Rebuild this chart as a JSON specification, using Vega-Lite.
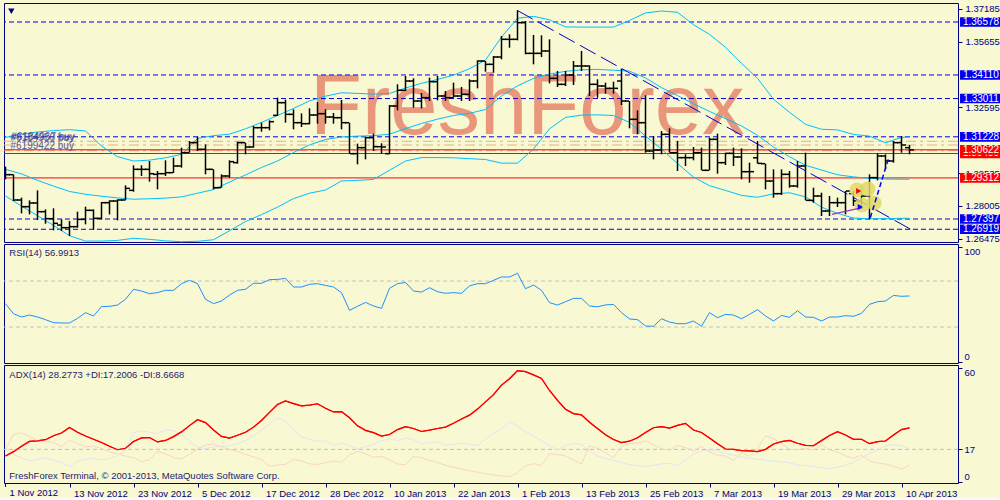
{
"$schema":"https://vega.github.io/schema/vega-lite/v6.json",
"background":"#F8F8D2",
"padding":{"left":2,"top":2,"right":0,"bottom":0},
"bounds":"flush",
"spacing":2,
"config":{"view":{"stroke":"#000080","strokeWidth":1,"fill":"#F8F8D2"},"axis":{"grid":false}},
"datasets":{
"bars":[
{"i":0,"o":1.29402,"h":1.29837,"l":1.29246,"c":1.29464,"r":50.3,"a":13.5,"pd":17.9,"md":17.0},
{"i":1,"o":1.29464,"h":1.29479,"l":1.28236,"c":1.28283,"r":41.6,"a":15.8,"pd":14.4,"md":24.8},
{"i":2,"o":1.28283,"h":1.28391,"l":1.27661,"c":1.27972,"r":38.7,"a":18.6,"pd":12.5,"md":25.7},
{"i":3,"o":1.27972,"h":1.28267,"l":1.27614,"c":1.28143,"r":40.4,"a":21.2,"pd":10.9,"md":23.9},
{"i":4,"o":1.28143,"h":1.28733,"l":1.2735,"c":1.27739,"r":38.7,"a":21.5,"pd":11.8,"md":21.4},
{"i":5,"o":1.27739,"h":1.27848,"l":1.27179,"c":1.27413,"r":36.4,"a":22.1,"pd":12.6,"md":21.4},
{"i":6,"o":1.27413,"h":1.27894,"l":1.26869,"c":1.27195,"r":33.8,"a":24.2,"pd":11.3,"md":20.5},
{"i":7,"o":1.27117,"h":1.27381,"l":1.26838,"c":1.26993,"r":33.5,"a":25.6,"pd":10.0,"md":18.5},
{"i":8,"o":1.26993,"h":1.27304,"l":1.26605,"c":1.2704,"r":33.5,"a":28.5,"pd":7.8,"md":22.0},
{"i":9,"o":1.2704,"h":1.27739,"l":1.26993,"c":1.27381,"r":37.5,"a":26.0,"pd":10.9,"md":20.0},
{"i":10,"o":1.27381,"h":1.27972,"l":1.27148,"c":1.27801,"r":42.5,"a":24.0,"pd":11.8,"md":18.3},
{"i":11,"o":1.27801,"h":1.27848,"l":1.269,"c":1.27428,"r":39.6,"a":22.3,"pd":12.2,"md":18.6},
{"i":12,"o":1.27428,"h":1.28189,"l":1.27381,"c":1.28158,"r":47.7,"a":20.6,"pd":11.4,"md":17.4},
{"i":13,"o":1.28158,"h":1.28267,"l":1.27614,"c":1.28236,"r":48.0,"a":18.6,"pd":12.1,"md":15.7},
{"i":14,"o":1.28236,"h":1.28314,"l":1.27335,"c":1.28283,"r":49.1,"a":16.8,"pd":13.7,"md":14.6},
{"i":15,"o":1.28283,"h":1.28966,"l":1.28267,"c":1.28826,"r":54.1,"a":17.6,"pd":16.2,"md":13.5},
{"i":16,"o":1.28733,"h":1.29899,"l":1.28671,"c":1.29712,"r":62.8,"a":21.1,"pd":25.8,"md":12.6},
{"i":17,"o":1.29712,"h":1.29899,"l":1.29402,"c":1.29712,"r":61.3,"a":23.0,"pd":26.7,"md":10.6},
{"i":18,"o":1.29712,"h":1.30101,"l":1.29138,"c":1.2951,"r":59.0,"a":23.2,"pd":26.0,"md":11.6},
{"i":19,"o":1.29479,"h":1.29634,"l":1.2878,"c":1.2951,"r":59.9,"a":20.9,"pd":25.3,"md":16.0},
{"i":20,"o":1.2951,"h":1.30132,"l":1.29402,"c":1.29557,"r":61.9,"a":21.7,"pd":27.3,"md":14.6},
{"i":21,"o":1.29557,"h":1.30256,"l":1.2954,"c":1.29867,"r":61.9,"a":23.7,"pd":26.8,"md":12.7},
{"i":22,"o":1.29867,"h":1.30722,"l":1.2979,"c":1.30489,"r":67.7,"a":26.2,"pd":24.6,"md":12.0},
{"i":23,"o":1.30489,"h":1.31032,"l":1.30489,"c":1.30955,"r":70.6,"a":29.5,"pd":21.5,"md":14.4},
{"i":24,"o":1.30955,"h":1.31234,"l":1.30567,"c":1.30644,"r":67.7,"a":32.6,"pd":18.2,"md":17.2},
{"i":25,"o":1.30644,"h":1.30877,"l":1.29479,"c":1.29712,"r":54.1,"a":31.1,"pd":17.4,"md":19.3},
{"i":26,"o":1.29712,"h":1.29712,"l":1.2878,"c":1.28857,"r":50.3,"a":27.2,"pd":18.3,"md":19.8},
{"i":27,"o":1.28857,"h":1.29479,"l":1.28857,"c":1.29402,"r":52.6,"a":23.8,"pd":18.6,"md":18.4},
{"i":28,"o":1.29402,"h":1.30132,"l":1.29324,"c":1.3007,"r":57.8,"a":22.9,"pd":18.9,"md":16.9},
{"i":29,"o":1.30023,"h":1.31001,"l":1.29976,"c":1.30955,"r":61.9,"a":24.4,"pd":19.9,"md":15.9},
{"i":30,"o":1.30955,"h":1.30955,"l":1.30411,"c":1.30753,"r":62.8,"a":26.0,"pd":21.7,"md":14.3},
{"i":31,"o":1.30753,"h":1.31731,"l":1.30722,"c":1.31653,"r":68.0,"a":28.7,"pd":24.2,"md":13.1},
{"i":32,"o":1.31653,"h":1.31886,"l":1.31467,"c":1.31653,"r":68.0,"a":32.2,"pd":27.1,"md":11.6},
{"i":33,"o":1.31653,"h":1.31995,"l":1.31529,"c":1.31933,"r":71.2,"a":36.5,"pd":30.5,"md":8.1},
{"i":34,"o":1.32228,"h":1.33051,"l":1.32197,"c":1.32818,"r":71.4,"a":40.6,"pd":33.5,"md":8.8},
{"i":35,"o":1.32818,"h":1.32958,"l":1.31886,"c":1.32275,"r":72.3,"a":42.5,"pd":31.9,"md":9.1},
{"i":36,"o":1.32275,"h":1.32508,"l":1.31576,"c":1.31886,"r":64.8,"a":41.1,"pd":27.6,"md":11.8},
{"i":37,"o":1.31886,"h":1.32321,"l":1.31685,"c":1.3184,"r":64.8,"a":39.9,"pd":23.4,"md":10.9},
{"i":38,"o":1.3184,"h":1.32554,"l":1.31809,"c":1.32244,"r":67.1,"a":40.3,"pd":22.3,"md":9.4},
{"i":39,"o":1.32244,"h":1.32849,"l":1.3184,"c":1.32306,"r":67.7,"a":41.0,"pd":21.4,"md":9.0},
{"i":40,"o":1.32306,"h":1.32508,"l":1.3184,"c":1.3215,"r":66.2,"a":38.6,"pd":21.4,"md":10.0},
{"i":41,"o":1.3215,"h":1.32336,"l":1.3184,"c":1.32119,"r":64.8,"a":36.7,"pd":19.2,"md":10.9},
{"i":42,"o":1.32119,"h":1.32943,"l":1.31576,"c":1.31886,"r":59.9,"a":36.9,"pd":20.3,"md":10.1},
{"i":43,"o":1.31886,"h":1.31886,"l":1.30442,"c":1.30442,"r":44.5,"a":33.6,"pd":18.9,"md":14.2},
{"i":44,"o":1.30442,"h":1.30908,"l":1.29945,"c":1.30722,"r":48.0,"a":29.4,"pd":17.2,"md":16.0},
{"i":45,"o":1.30722,"h":1.31219,"l":1.30178,"c":1.31188,"r":51.4,"a":27.0,"pd":18.3,"md":14.7},
{"i":46,"o":1.31188,"h":1.31374,"l":1.30567,"c":1.30768,"r":48.3,"a":25.8,"pd":19.7,"md":12.9},
{"i":47,"o":1.30768,"h":1.30924,"l":1.30442,"c":1.30753,"r":46.2,"a":24.0,"pd":21.6,"md":13.3},
{"i":48,"o":1.30442,"h":1.3271,"l":1.30411,"c":1.32663,"r":63.6,"a":24.8,"pd":22.6,"md":11.4},
{"i":49,"o":1.32663,"h":1.33673,"l":1.32461,"c":1.33393,"r":67.7,"a":27.4,"pd":21.6,"md":9.3},
{"i":50,"o":1.33393,"h":1.34061,"l":1.33362,"c":1.33828,"r":68.8,"a":29.0,"pd":22.9,"md":8.9},
{"i":51,"o":1.33828,"h":1.33952,"l":1.32585,"c":1.32896,"r":61.3,"a":28.0,"pd":22.2,"md":13.3},
{"i":52,"o":1.32896,"h":1.33269,"l":1.32554,"c":1.33051,"r":60.4,"a":26.4,"pd":20.0,"md":12.7},
{"i":53,"o":1.33051,"h":1.33983,"l":1.32896,"c":1.33797,"r":64.2,"a":27.1,"pd":20.6,"md":11.2},
{"i":54,"o":1.33797,"h":1.34061,"l":1.32927,"c":1.33129,"r":60.7,"a":28.0,"pd":21.0,"md":10.1},
{"i":55,"o":1.33129,"h":1.33362,"l":1.32896,"c":1.33051,"r":59.3,"a":28.7,"pd":19.1,"md":8.6},
{"i":56,"o":1.33051,"h":1.3375,"l":1.33051,"c":1.33129,"r":59.9,"a":30.7,"pd":19.6,"md":7.6},
{"i":57,"o":1.33129,"h":1.33548,"l":1.32896,"c":1.33207,"r":59.3,"a":33.0,"pd":20.3,"md":6.7},
{"i":58,"o":1.33207,"h":1.33906,"l":1.32896,"c":1.33828,"r":65.7,"a":35.0,"pd":19.6,"md":5.8},
{"i":59,"o":1.33828,"h":1.34791,"l":1.33486,"c":1.3476,"r":67.7,"a":38.2,"pd":19.1,"md":5.0},
{"i":60,"o":1.3476,"h":1.3476,"l":1.34263,"c":1.34605,"r":67.7,"a":42.0,"pd":22.5,"md":4.2},
{"i":61,"o":1.34605,"h":1.34993,"l":1.34216,"c":1.34946,"r":70.6,"a":45.8,"pd":25.4,"md":3.6},
{"i":62,"o":1.34946,"h":1.35925,"l":1.34838,"c":1.3577,"r":73.5,"a":50.8,"pd":27.7,"md":3.0},
{"i":63,"o":1.3577,"h":1.36003,"l":1.35381,"c":1.3577,"r":73.5,"a":54.2,"pd":31.5,"md":2.7},
{"i":64,"o":1.3577,"h":1.37121,"l":1.35723,"c":1.36546,"r":76.7,"a":58.4,"pd":29.2,"md":4.5},
{"i":65,"o":1.36546,"h":1.36624,"l":1.35071,"c":1.35117,"r":63.3,"a":57.9,"pd":26.5,"md":8.3},
{"i":66,"o":1.35117,"h":1.35972,"l":1.34605,"c":1.35117,"r":66.5,"a":56.2,"pd":23.9,"md":9.5},
{"i":67,"o":1.35117,"h":1.35956,"l":1.34946,"c":1.35226,"r":61.9,"a":54.3,"pd":21.6,"md":8.4},
{"i":68,"o":1.35226,"h":1.3577,"l":1.33719,"c":1.33952,"r":51.2,"a":48.0,"pd":18.8,"md":14.8},
{"i":69,"o":1.33952,"h":1.34294,"l":1.33548,"c":1.33673,"r":49.1,"a":42.8,"pd":16.6,"md":14.3},
{"i":70,"o":1.33673,"h":1.34294,"l":1.33595,"c":1.34108,"r":52.0,"a":38.1,"pd":19.0,"md":13.5},
{"i":71,"o":1.34108,"h":1.3476,"l":1.33642,"c":1.34527,"r":54.9,"a":35.8,"pd":20.0,"md":11.3},
{"i":72,"o":1.34527,"h":1.35226,"l":1.34294,"c":1.34527,"r":54.9,"a":35.2,"pd":19.7,"md":9.3},
{"i":73,"o":1.34527,"h":1.34558,"l":1.33129,"c":1.33673,"r":48.3,"a":31.3,"pd":16.2,"md":18.8},
{"i":74,"o":1.33673,"h":1.33906,"l":1.33051,"c":1.33595,"r":47.6,"a":28.0,"pd":13.5,"md":17.6},
{"i":75,"o":1.33595,"h":1.3375,"l":1.33238,"c":1.33486,"r":49.2,"a":24.7,"pd":12.1,"md":15.2},
{"i":76,"o":1.33486,"h":1.33797,"l":1.33238,"c":1.33486,"r":49.7,"a":22.2,"pd":11.1,"md":12.6},
{"i":77,"o":1.33828,"h":1.34403,"l":1.3271,"c":1.32896,"r":42.5,"a":20.6,"pd":10.0,"md":18.6},
{"i":78,"o":1.32896,"h":1.32896,"l":1.31622,"c":1.32042,"r":37.0,"a":21.3,"pd":9.0,"md":20.0},
{"i":79,"o":1.32042,"h":1.32461,"l":1.31343,"c":1.31886,"r":36.4,"a":23.1,"pd":8.4,"md":20.4},
{"i":80,"o":1.31886,"h":1.3316,"l":1.30489,"c":1.30567,"r":30.9,"a":25.9,"pd":8.1,"md":21.4},
{"i":81,"o":1.30567,"h":1.31265,"l":1.30178,"c":1.30613,"r":30.6,"a":28.4,"pd":8.7,"md":19.6},
{"i":82,"o":1.30613,"h":1.31498,"l":1.30411,"c":1.31343,"r":37.2,"a":29.0,"pd":9.4,"md":17.2},
{"i":83,"o":1.31343,"h":1.31622,"l":1.30489,"c":1.30489,"r":34.3,"a":28.2,"pd":9.6,"md":16.6},
{"i":84,"o":1.30489,"h":1.31032,"l":1.29634,"c":1.30256,"r":32.9,"a":29.6,"pd":8.3,"md":19.0},
{"i":85,"o":1.30256,"h":1.30411,"l":1.29867,"c":1.30256,"r":32.9,"a":30.7,"pd":11.5,"md":17.9},
{"i":86,"o":1.30256,"h":1.30753,"l":1.30132,"c":1.30489,"r":35.2,"a":27.2,"pd":14.5,"md":16.2},
{"i":87,"o":1.30489,"h":1.30722,"l":1.29666,"c":1.29666,"r":30.6,"a":25.9,"pd":16.2,"md":18.6},
{"i":88,"o":1.29666,"h":1.31188,"l":1.29666,"c":1.3111,"r":42.5,"a":23.0,"pd":16.7,"md":15.6},
{"i":89,"o":1.3111,"h":1.31374,"l":1.2951,"c":1.30023,"r":38.1,"a":19.9,"pd":16.3,"md":14.0},
{"i":90,"o":1.30023,"h":1.30489,"l":1.29914,"c":1.30457,"r":41.0,"a":17.2,"pd":14.8,"md":13.5},
{"i":91,"o":1.30457,"h":1.30722,"l":1.29867,"c":1.30287,"r":40.4,"a":17.0,"pd":14.0,"md":11.1},
{"i":92,"o":1.30287,"h":1.30691,"l":1.29246,"c":1.29603,"r":37.2,"a":16.3,"pd":13.0,"md":15.1},
{"i":93,"o":1.29603,"h":1.30023,"l":1.29091,"c":1.29603,"r":41.0,"a":16.2,"pd":12.3,"md":13.3},
{"i":94,"o":1.3025,"h":1.31032,"l":1.29976,"c":1.2999,"r":45.1,"a":15.8,"pd":11.8,"md":17.3},
{"i":95,"o":1.29976,"h":1.29976,"l":1.2878,"c":1.29168,"r":39.6,"a":17.0,"pd":11.2,"md":24.1},
{"i":96,"o":1.29168,"h":1.29712,"l":1.28392,"c":1.28578,"r":35.2,"a":19.8,"pd":10.9,"md":22.6},
{"i":97,"o":1.28578,"h":1.29712,"l":1.28516,"c":1.29479,"r":40.1,"a":21.1,"pd":10.4,"md":20.1},
{"i":98,"o":1.29479,"h":1.29634,"l":1.28857,"c":1.28935,"r":38.4,"a":21.7,"pd":9.9,"md":17.0},
{"i":99,"o":1.28935,"h":1.30101,"l":1.28857,"c":1.29867,"r":44.2,"a":20.2,"pd":8.8,"md":16.8},
{"i":100,"o":1.29867,"h":1.30489,"l":1.28267,"c":1.28267,"r":38.7,"a":19.1,"pd":8.5,"md":17.6},
{"i":101,"o":1.28267,"h":1.28857,"l":1.28158,"c":1.28469,"r":38.4,"a":18.9,"pd":8.0,"md":16.6},
{"i":102,"o":1.28469,"h":1.28624,"l":1.27537,"c":1.2777,"r":35.2,"a":21.6,"pd":7.4,"md":19.3},
{"i":103,"o":1.2777,"h":1.28469,"l":1.27537,"c":1.28158,"r":38.7,"a":24.3,"pd":6.8,"md":16.8},
{"i":104,"o":1.28158,"h":1.28391,"l":1.27956,"c":1.28158,"r":38.7,"a":26.3,"pd":7.6,"md":15.6},
{"i":105,"o":1.28158,"h":1.28702,"l":1.27614,"c":1.28702,"r":39.9,"a":24.6,"pd":8.6,"md":13.6},
{"i":106,"o":1.28578,"h":1.28702,"l":1.28003,"c":1.28236,"r":39.3,"a":22.3,"pd":10.1,"md":12.3},
{"i":107,"o":1.28236,"h":1.28935,"l":1.27848,"c":1.28469,"r":41.9,"a":22.3,"pd":12.4,"md":13.9},
{"i":108,"o":1.28469,"h":1.29479,"l":1.27381,"c":1.29324,"r":49.7,"a":20.0,"pd":14.9,"md":10.9},
{"i":109,"o":1.29324,"h":1.30457,"l":1.292,"c":1.30333,"r":52.0,"a":21.1,"pd":16.4,"md":9.8},
{"i":110,"o":1.30333,"h":1.30411,"l":1.29712,"c":1.30101,"r":52.6,"a":21.4,"pd":18.8,"md":9.3},
{"i":111,"o":1.30101,"h":1.31032,"l":1.30023,"c":1.30955,"r":57.5,"a":24.6,"pd":19.5,"md":8.1},
{"i":112,"o":1.30955,"h":1.31265,"l":1.30489,"c":1.30846,"r":56.7,"a":27.4,"pd":18.9,"md":6.6},
{"i":113,"o":1.30722,"h":1.30846,"l":1.30411,"c":1.30622,"r":56.99,"a":28.28,"pd":17.2,"md":8.67}
],
"bands":[
{"i":0,"up":1.312,"mid":1.2971,"lo":1.2847},{"i":2,"up":1.3135,"mid":1.295,"lo":1.28},{"i":4,"up":1.3145,"mid":1.292,"lo":1.2755},{"i":6,"up":1.3152,"mid":1.2893,"lo":1.271},{"i":8,"up":1.3156,"mid":1.2868,"lo":1.2662},{"i":10,"up":1.315,"mid":1.2855,"lo":1.2637},{"i":12,"up":1.308,"mid":1.2846,"lo":1.2637},{"i":14,"up":1.303,"mid":1.2838,"lo":1.264},{"i":16,"up":1.301,"mid":1.2832,"lo":1.265},{"i":18,"up":1.3014,"mid":1.2834,"lo":1.2645},{"i":20,"up":1.3025,"mid":1.2837,"lo":1.2638},{"i":22,"up":1.3041,"mid":1.2843,"lo":1.2634},{"i":24,"up":1.3115,"mid":1.286,"lo":1.2636},{"i":26,"up":1.3128,"mid":1.2877,"lo":1.2643},{"i":28,"up":1.3135,"mid":1.2912,"lo":1.2685},{"i":30,"up":1.316,"mid":1.2945,"lo":1.2728},{"i":32,"up":1.319,"mid":1.298,"lo":1.276},{"i":34,"up":1.3222,"mid":1.301,"lo":1.2795},{"i":36,"up":1.3255,"mid":1.305,"lo":1.2835},{"i":38,"up":1.329,"mid":1.3085,"lo":1.286},{"i":40,"up":1.3312,"mid":1.311,"lo":1.2875},{"i":42,"up":1.3328,"mid":1.3122,"lo":1.2917},{"i":44,"up":1.3325,"mid":1.3126,"lo":1.292},{"i":46,"up":1.3322,"mid":1.3128,"lo":1.2924},{"i":48,"up":1.3325,"mid":1.3135,"lo":1.2967},{"i":50,"up":1.335,"mid":1.3161,"lo":1.301},{"i":52,"up":1.3372,"mid":1.3185,"lo":1.3026},{"i":54,"up":1.339,"mid":1.3205,"lo":1.3026},{"i":56,"up":1.341,"mid":1.3222,"lo":1.3025},{"i":58,"up":1.344,"mid":1.3232,"lo":1.3021},{"i":60,"up":1.348,"mid":1.325,"lo":1.3017},{"i":62,"up":1.3588,"mid":1.3313,"lo":1.3},{"i":64,"up":1.3675,"mid":1.336,"lo":1.3},{"i":66,"up":1.3684,"mid":1.3395,"lo":1.3066},{"i":68,"up":1.3668,"mid":1.3415,"lo":1.316},{"i":70,"up":1.3635,"mid":1.3428,"lo":1.3213},{"i":72,"up":1.3634,"mid":1.3435,"lo":1.3224},{"i":74,"up":1.3634,"mid":1.3437,"lo":1.3225},{"i":76,"up":1.3634,"mid":1.3433,"lo":1.3222},{"i":78,"up":1.3665,"mid":1.3429,"lo":1.319},{"i":80,"up":1.37,"mid":1.3397,"lo":1.3126},{"i":82,"up":1.3709,"mid":1.3352,"lo":1.3066},{"i":84,"up":1.3703,"mid":1.3315,"lo":1.2998},{"i":86,"up":1.3645,"mid":1.3277,"lo":1.2935},{"i":88,"up":1.36,"mid":1.3241,"lo":1.2895},{"i":90,"up":1.354,"mid":1.3208,"lo":1.2873},{"i":92,"up":1.3465,"mid":1.3173,"lo":1.285},{"i":94,"up":1.3395,"mid":1.313,"lo":1.2841},{"i":96,"up":1.3298,"mid":1.3075,"lo":1.2857},{"i":98,"up":1.3237,"mid":1.303,"lo":1.2862},{"i":100,"up":1.3181,"mid":1.299,"lo":1.2843},{"i":102,"up":1.3158,"mid":1.2968,"lo":1.2795},{"i":104,"up":1.3155,"mid":1.2946,"lo":1.2766},{"i":106,"up":1.3134,"mid":1.2936,"lo":1.2744},{"i":108,"up":1.3126,"mid":1.2929,"lo":1.2741},{"i":110,"up":1.3095,"mid":1.2926,"lo":1.2741},{"i":112,"up":1.312,"mid":1.2925,"lo":1.2743},{"i":113,"up":1.3122,"mid":1.2925,"lo":1.2743}
],
"levels":[{"p":1.36578,"k":"blue"},{"p":1.3411,"k":"blue"},{"p":1.33011,"k":"blue"},{"p":1.31228,"k":"blue"},{"p":1.27397,"k":"blue"},{"p":1.26919,"k":"blue"},{"p":1.3045,"k":"red"},{"p":1.30622,"k":"red"},{"p":1.29312,"k":"red"}],
"orders":[{"p":1.31019},{"p":1.30846},{"p":1.30581}],
"trend":[{"i":63.94,"p":1.37123},{"i":113.69,"p":1.26806}],
"upline":[{"i":108.1,"p":1.2746},{"i":110.4,"p":1.3025}],
"purple":[{"i":103.3,"p":1.27617},{"i":107.06,"p":1.27925}],
"blobs":[{"i":106.44,"p":1.28749},{"i":107.81,"p":1.28796},{"i":108.56,"p":1.28144},{"i":107.06,"p":1.2805}],
"arrows":[{"i":106.65,"p":1.28702,"k":"sell"},{"i":106.85,"p":1.27957,"k":"buy"}],
"tickets":[{"i":0.625,"p":1.31172,"t":"#6184930 buy"},{"i":0.75,"p":1.31235,"t":"#6184967 buy"},{"i":0.625,"p":1.30799,"t":"#6199422 buy"}]
},
"vconcat":[
{
"width":954,"height":239,
"layer":[
{"data":{"values":[{"t":"FreshForex"}]},"mark":{"type":"text","align":"left","baseline":"alphabetic","font":"Liberation Sans","fontSize":85,"color":"#E9967A"},
 "encoding":{"x":{"datum":38.06,"type":"quantitative","scale":{"domain":[-0.1875,119.0625],"nice":false,"zero":false},"axis":null},
  "y":{"datum":1.31359,"type":"quantitative","scale":{"domain":[1.26326,1.37463],"nice":false,"zero":false}},"text":{"field":"t"}}},
{"data":{"name":"orders"},"mark":{"type":"rule","color":"#E2B47E","strokeWidth":1,"strokeDash":[10,4,3,4]},
 "encoding":{"y":{"field":"p","type":"quantitative","scale":{"domain":[1.26326,1.37463],"nice":false,"zero":false}}}},
{"data":{"name":"levels"},"transform":[{"filter":"datum.k==='blue'"}],"mark":{"type":"rule","color":"#0000DD","strokeWidth":1,"strokeDash":[5,3]},
 "encoding":{"y":{"field":"p","type":"quantitative","scale":{"domain":[1.26326,1.37463],"nice":false,"zero":false},
  "axis":{"orient":"right","values":[1.37185,1.35655,1.32595,1.29535,1.28005,1.26475],"format":".5f","title":null,"domain":false,"grid":false,"tickSize":4,"tickColor":"#000080","labelColor":"#000080","labelFont":"Liberation Sans","labelFontSize":9.5,"labelPadding":3,"labelFlush":false,"labelOverlap":false}}}},
{"data":{"name":"levels"},"transform":[{"filter":"datum.k==='red'"}],"mark":{"type":"rule","color":"#FF0000","strokeWidth":1},
 "encoding":{"y":{"field":"p","type":"quantitative","scale":{"domain":[1.26326,1.37463],"nice":false,"zero":false}}}},
{"data":{"name":"bands"},"transform":[{"fold":["up","mid","lo"],"as":["band","v"]}],"mark":{"type":"line","color":"#00BFFF","strokeWidth":1},
 "encoding":{"x":{"field":"i","type":"quantitative","scale":{"domain":[-0.1875,119.0625],"nice":false,"zero":false},"axis":null},
  "y":{"field":"v","type":"quantitative","scale":{"domain":[1.26326,1.37463],"nice":false,"zero":false}},"detail":{"field":"band"}}},
{"data":{"name":"bars"},"mark":{"type":"rule","color":"#000000","strokeWidth":1.5},
 "encoding":{"x":{"field":"i","type":"quantitative","scale":{"domain":[-0.1875,119.0625],"nice":false,"zero":false},"axis":null},
  "y":{"field":"l","type":"quantitative","scale":{"domain":[1.26326,1.37463],"nice":false,"zero":false}},"y2":{"field":"h"}}},
{"data":{"name":"bars"},"transform":[{"filter":"datum.i>0"}],"mark":{"type":"tick","orient":"horizontal","size":4,"thickness":1.5,"xOffset":-2.5,"color":"#000000","opacity":1},
 "encoding":{"x":{"field":"i","type":"quantitative","scale":{"domain":[-0.1875,119.0625],"nice":false,"zero":false},"axis":null},
  "y":{"field":"o","type":"quantitative","scale":{"domain":[1.26326,1.37463],"nice":false,"zero":false}}}},
{"data":{"name":"bars"},"mark":{"type":"tick","orient":"horizontal","size":4,"thickness":1.5,"xOffset":2.5,"color":"#000000","opacity":1},
 "encoding":{"x":{"field":"i","type":"quantitative","scale":{"domain":[-0.1875,119.0625],"nice":false,"zero":false},"axis":null},
  "y":{"field":"c","type":"quantitative","scale":{"domain":[1.26326,1.37463],"nice":false,"zero":false}}}},
{"data":{"name":"trend"},"mark":{"type":"line","color":"#0000CD","strokeWidth":1,"strokeDash":[18,6]},
 "encoding":{"x":{"field":"i","type":"quantitative","scale":{"domain":[-0.1875,119.0625],"nice":false,"zero":false},"axis":null},
  "y":{"field":"p","type":"quantitative","scale":{"domain":[1.26326,1.37463],"nice":false,"zero":false}}}},
{"data":{"name":"blobs"},"mark":{"type":"point","shape":"circle","filled":true,"size":230,"color":"#E0D868","opacity":0.85},
 "encoding":{"x":{"field":"i","type":"quantitative","scale":{"domain":[-0.1875,119.0625],"nice":false,"zero":false},"axis":null},
  "y":{"field":"p","type":"quantitative","scale":{"domain":[1.26326,1.37463],"nice":false,"zero":false}}}},
{"data":{"name":"upline"},"mark":{"type":"line","color":"#0000FF","strokeWidth":1.5,"strokeDash":[5,3]},
 "encoding":{"x":{"field":"i","type":"quantitative","scale":{"domain":[-0.1875,119.0625],"nice":false,"zero":false},"axis":null},
  "y":{"field":"p","type":"quantitative","scale":{"domain":[1.26326,1.37463],"nice":false,"zero":false}}}},
{"data":{"name":"purple"},"mark":{"type":"line","color":"#9932CC","strokeWidth":1.2},
 "encoding":{"x":{"field":"i","type":"quantitative","scale":{"domain":[-0.1875,119.0625],"nice":false,"zero":false},"axis":null},
  "y":{"field":"p","type":"quantitative","scale":{"domain":[1.26326,1.37463],"nice":false,"zero":false}}}},
{"data":{"name":"arrows"},"transform":[{"filter":"datum.k==='sell'"}],"mark":{"type":"point","shape":"triangle-right","filled":true,"size":35,"color":"#FF0000","opacity":1},
 "encoding":{"x":{"field":"i","type":"quantitative","scale":{"domain":[-0.1875,119.0625],"nice":false,"zero":false},"axis":null},
  "y":{"field":"p","type":"quantitative","scale":{"domain":[1.26326,1.37463],"nice":false,"zero":false}}}},
{"data":{"name":"arrows"},"transform":[{"filter":"datum.k==='buy'"}],"mark":{"type":"point","shape":"triangle-right","filled":true,"size":35,"color":"#0000FF","opacity":1},
 "encoding":{"x":{"field":"i","type":"quantitative","scale":{"domain":[-0.1875,119.0625],"nice":false,"zero":false},"axis":null},
  "y":{"field":"p","type":"quantitative","scale":{"domain":[1.26326,1.37463],"nice":false,"zero":false}}}},
{"data":{"name":"tickets"},"mark":{"type":"text","align":"left","baseline":"middle","font":"Liberation Sans","fontSize":10,"color":"#3B3B9A","opacity":0.85},
 "encoding":{"x":{"field":"i","type":"quantitative","scale":{"domain":[-0.1875,119.0625],"nice":false,"zero":false},"axis":null},
  "y":{"field":"p","type":"quantitative","scale":{"domain":[1.26326,1.37463],"nice":false,"zero":false}},"text":{"field":"t"}}},
{"data":{"values":[{}]},"mark":{"type":"point","shape":"triangle-down","filled":true,"size":40,"color":"#000080","opacity":1},
 "encoding":{"x":{"datum":0.73,"type":"quantitative","scale":{"domain":[-0.1875,119.0625],"nice":false,"zero":false},"axis":null},
  "y":{"datum":1.37076,"type":"quantitative","scale":{"domain":[1.26326,1.37463],"nice":false,"zero":false}}}},
{"data":{"name":"levels"},"transform":[{"filter":"datum.p===1.3045"}],"mark":{"type":"point","shape":"M-1,-0.23H1V0.23H-1Z","filled":true,"size":1764,"color":"#FF0000","opacity":1},
 "encoding":{"x":{"datum":121.94,"type":"quantitative","scale":{"domain":[-0.1875,119.0625],"nice":false,"zero":false},"axis":null},
  "y":{"field":"p","type":"quantitative","scale":{"domain":[1.26326,1.37463],"nice":false,"zero":false}}}},
{"data":{"name":"levels"},"transform":[{"filter":"datum.p===1.3045"}],"mark":{"type":"text","align":"center","baseline":"middle","font":"Liberation Sans","fontSize":10,"color":"#FFFFFF"},
 "encoding":{"x":{"datum":121.94,"type":"quantitative","scale":{"domain":[-0.1875,119.0625],"nice":false,"zero":false},"axis":null},
  "y":{"field":"p","type":"quantitative","scale":{"domain":[1.26326,1.37463],"nice":false,"zero":false}},"text":{"field":"p","format":".5f"}}},
{"data":{"name":"levels"},"transform":[{"filter":"datum.k==='blue'"}],"mark":{"type":"point","shape":"M-1,-0.23H1V0.23H-1Z","filled":true,"size":1764,"color":"#0000EE","opacity":1},
 "encoding":{"x":{"datum":121.94,"type":"quantitative","scale":{"domain":[-0.1875,119.0625],"nice":false,"zero":false},"axis":null},
  "y":{"field":"p","type":"quantitative","scale":{"domain":[1.26326,1.37463],"nice":false,"zero":false}}}},
{"data":{"name":"levels"},"transform":[{"filter":"datum.k==='red' && datum.p!==1.3045"}],"mark":{"type":"point","shape":"M-1,-0.23H1V0.23H-1Z","filled":true,"size":1764,"color":"#FF0000","opacity":1},
 "encoding":{"x":{"datum":121.94,"type":"quantitative","scale":{"domain":[-0.1875,119.0625],"nice":false,"zero":false},"axis":null},
  "y":{"field":"p","type":"quantitative","scale":{"domain":[1.26326,1.37463],"nice":false,"zero":false}}}},
{"data":{"name":"levels"},"transform":[{"filter":"datum.p!==1.3045"}],"mark":{"type":"text","align":"center","baseline":"middle","font":"Liberation Sans","fontSize":10,"color":"#FFFFFF"},
 "encoding":{"x":{"datum":121.94,"type":"quantitative","scale":{"domain":[-0.1875,119.0625],"nice":false,"zero":false},"axis":null},
  "y":{"field":"p","type":"quantitative","scale":{"domain":[1.26326,1.37463],"nice":false,"zero":false}},"text":{"field":"p","format":".5f"}}}
]
},
{
"width":954,"height":119,
"layer":[
{"data":{"values":[{"v":70},{"v":30}]},"mark":{"type":"rule","color":"#C0C0C0","strokeWidth":1,"strokeDash":[4,3]},
 "encoding":{"y":{"field":"v","type":"quantitative","scale":{"domain":[-1.3,102.2],"nice":false,"zero":false},
  "axis":{"orient":"right","values":[0,30,70,100],"title":null,"domain":false,"grid":false,"tickSize":4,"tickColor":"#000080","labelColor":"#000080","labelFont":"Liberation Sans","labelFontSize":9.5,"labelPadding":2,"labelFlush":5,"labelOverlap":false}}}},
{"data":{"name":"bars"},"mark":{"type":"line","color":"#1E90FF","strokeWidth":1},
 "encoding":{"x":{"field":"i","type":"quantitative","scale":{"domain":[-0.1875,119.0625],"nice":false,"zero":false},"axis":null},
  "y":{"field":"r","type":"quantitative","scale":{"domain":[-1.3,102.2],"nice":false,"zero":false}}}},
{"data":{"values":[{"t":"RSI(14) 56.9913"}]},"mark":{"type":"text","align":"left","baseline":"middle","font":"Liberation Sans","fontSize":9.5,"color":"#1C1C70"},
 "encoding":{"x":{"datum":0.475,"type":"quantitative","scale":{"domain":[-0.1875,119.0625],"nice":false,"zero":false},"axis":null},
  "y":{"datum":94.1,"type":"quantitative","scale":{"domain":[-1.3,102.2],"nice":false,"zero":false}},"text":{"field":"t"}}}
]
},
{
"width":954,"height":118,
"layer":[
{"data":{"name":"bars"},"mark":{"type":"line","color":"#FF0000","strokeWidth":1.2},
 "encoding":{"x":{"field":"i","type":"quantitative","scale":{"domain":[-0.1875,119.0625],"nice":false,"zero":false},
  "axis":{"values":[8,16,24,32,40,48,56,64,72,80,88,96,104,112],"labelExpr":"['1 Nov 2012','13 Nov 2012','23 Nov 2012','5 Dec 2012','17 Dec 2012','28 Dec 2012','10 Jan 2013','22 Jan 2013','1 Feb 2013','13 Feb 2013','25 Feb 2013','7 Mar 2013','19 Mar 2013','29 Mar 2013','10 Apr 2013'][round(datum.value/8)]","title":null,"domain":false,"grid":false,"tickSize":4,"tickColor":"#000080","labelColor":"#000080","labelFont":"Liberation Sans","labelFontSize":9.5,"labelAlign":"left","labelBaseline":"top","labelPadding":1,"labelOffset":4,"labelFlush":false,"labelOverlap":false,"labelBound":false}},
  "y":{"field":"a","type":"quantitative","scale":{"domain":[-0.7,61.4],"nice":false,"zero":false},
  "axis":{"orient":"right","values":[0,17,60],"title":null,"domain":false,"grid":false,"tickSize":4,"tickColor":"#000080","labelColor":"#000080","labelFont":"Liberation Sans","labelFontSize":9.5,"labelPadding":2,"labelFlush":5,"labelOverlap":false}}}},
{"data":{"values":[{"v":17}]},"mark":{"type":"rule","color":"#C0C0C0","strokeWidth":1,"strokeDash":[4,3]},
 "encoding":{"y":{"field":"v","type":"quantitative","scale":{"domain":[-0.7,61.4],"nice":false,"zero":false}}}},
{"data":{"name":"bars"},"mark":{"type":"line","color":"#E4E4F2","strokeWidth":1},
 "encoding":{"x":{"field":"i","type":"quantitative","scale":{"domain":[-0.1875,119.0625],"nice":false,"zero":false}},
  "y":{"field":"pd","type":"quantitative","scale":{"domain":[-0.7,61.4],"nice":false,"zero":false}}}},
{"data":{"name":"bars"},"mark":{"type":"line","color":"#FAD6C2","strokeWidth":1},
 "encoding":{"x":{"field":"i","type":"quantitative","scale":{"domain":[-0.1875,119.0625],"nice":false,"zero":false}},
  "y":{"field":"md","type":"quantitative","scale":{"domain":[-0.7,61.4],"nice":false,"zero":false}}}},
{"data":{"name":"bars"},"mark":{"type":"line","color":"#FF0000","strokeWidth":1.2},
 "encoding":{"x":{"field":"i","type":"quantitative","scale":{"domain":[-0.1875,119.0625],"nice":false,"zero":false}},
  "y":{"field":"a","type":"quantitative","scale":{"domain":[-0.7,61.4],"nice":false,"zero":false}}}},
{"data":{"values":[{"i":0}]},"mark":{"type":"rule","color":"#000080","strokeWidth":1},
 "encoding":{"x":{"field":"i","type":"quantitative","scale":{"domain":[-0.1875,119.0625],"nice":false,"zero":false}},
  "y":{"datum":-0.7,"type":"quantitative","scale":{"domain":[-0.7,61.4],"nice":false,"zero":false}},"y2":{"datum":-2.8}}},
{"data":{"values":[{"i":0,"t":"1 Nov 2012"}]},"mark":{"type":"text","align":"left","baseline":"top","dx":4,"font":"Liberation Sans","fontSize":9.5,"color":"#000080"},
 "encoding":{"x":{"field":"i","type":"quantitative","scale":{"domain":[-0.1875,119.0625],"nice":false,"zero":false}},
  "y":{"datum":-3.3,"type":"quantitative","scale":{"domain":[-0.7,61.4],"nice":false,"zero":false}},"text":{"field":"t"}}},
{"data":{"values":[{"t":"ADX(14) 28.2773 +DI:17.2006 -DI:8.6668","v":56.2},{"t":"FreshForex Terminal, © 2001-2013, MetaQuotes Software Corp.","v":3.0}]},"mark":{"type":"text","align":"left","baseline":"middle","font":"Liberation Sans","fontSize":9.5,"color":"#1C1C70"},
 "encoding":{"x":{"datum":0.475,"type":"quantitative","scale":{"domain":[-0.1875,119.0625],"nice":false,"zero":false}},
  "y":{"field":"v","type":"quantitative","scale":{"domain":[-0.7,61.4],"nice":false,"zero":false}},"text":{"field":"t"}}}
]
}
]
}
